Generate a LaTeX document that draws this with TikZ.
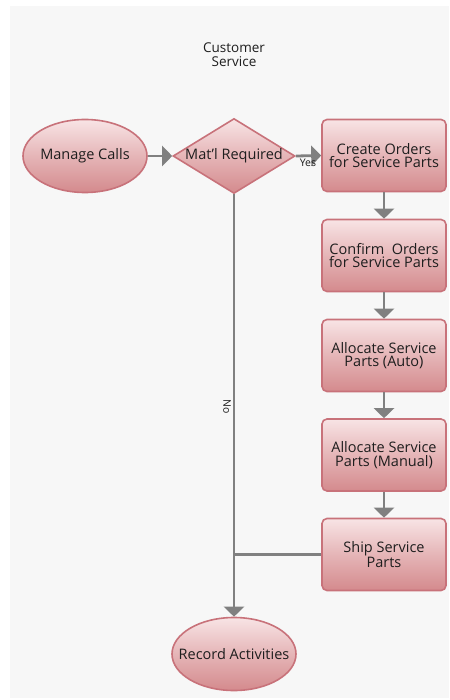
\documentclass[tikz,border=0pt]{standalone}
\usepackage{fontspec}
\setmainfont{Open Sans}
\usetikzlibrary{shapes.geometric,arrows.meta}
\definecolor{bgc}{HTML}{F7F7F7}
\definecolor{pinkTop}{HTML}{F8E4E5}
\definecolor{pinkMid}{HTML}{E5B5B7}
\definecolor{pinkBot}{HTML}{D48A8D}
\definecolor{pinkLine}{HTML}{C8727A}
\definecolor{conn}{HTML}{808080}
\definecolor{txt}{HTML}{1E1E1E}
\begin{document}
\begin{tikzpicture}[x=1pt,y=1pt,
  shp/.style={draw=pinkLine, line width=1.6pt, top color=pinkTop, bottom color=pinkBot, middle color=pinkMid,
    text=txt, inner sep=0pt, font=\fontsize{14.5}{13.5}\selectfont, align=center},
  boxstep/.style={shp, rectangle, rounded corners=5pt, minimum width=124pt, minimum height=72pt},
  oval/.style={shp, ellipse, minimum width=124pt, minimum height=73pt},
  decis/.style={shp, diamond, minimum width=122pt, minimum height=75pt},
  flow/.style={draw=conn, line width=2.8pt, -{Triangle[length=10pt,width=20pt]}},
  plain/.style={draw=conn, line width=2.8pt},
  lbl/.style={text=txt, inner sep=0pt, font=\fontsize{10.5}{10.5}\selectfont}
]
\useasboundingbox (0,0) rectangle (449,-700);
\fill[bgc] (10,-6) rectangle (449,-698);

\node[text=txt, align=center, font=\fontsize{13.5}{14}\selectfont] (title) at (234,-55) {Customer\\Service};

\node[oval] (mc) at (85,-156) {\makebox[0pt]{Manage Calls}};
\node[decis] (dec) at (234,-156) {\makebox[0pt]{Mat'l Required}};
\node[boxstep] (b1) at (384,-155.5) {Create Orders\\for Service Parts};
\node[boxstep] (b2) at (384,-255.5) {Confirm\ \ Orders\\for Service Parts};
\node[boxstep] (b3) at (384,-355.5) {Allocate Service\\Parts (Auto)};
\node[boxstep] (b4) at (384,-455) {Allocate Service\\Parts (Manual)};
\node[boxstep] (b5) at (384,-554.5) {Ship Service\\Parts};
\node[oval] (rec) at (234,-654) {\makebox[0pt]{Record Activities}};

\draw[flow] (mc) -- (dec);
\draw[flow] (dec.east) -- (b1.west);
\node[lbl] (yes) at (308,-163) {Yes};
\draw[flow] (b1) -- (b2);
\draw[flow] (b2) -- (b3);
\draw[flow] (b3) -- (b4);
\draw[flow] (b4) -- (b5);
\draw[flow] (dec.south) -- (rec.north);
\node[lbl, rotate=-90] (no) at (227,-407) {No};
\coordinate (join) at (dec.south |- b5.west);
\draw[plain] (b5.west) -- (join);
\end{tikzpicture}
\end{document}
